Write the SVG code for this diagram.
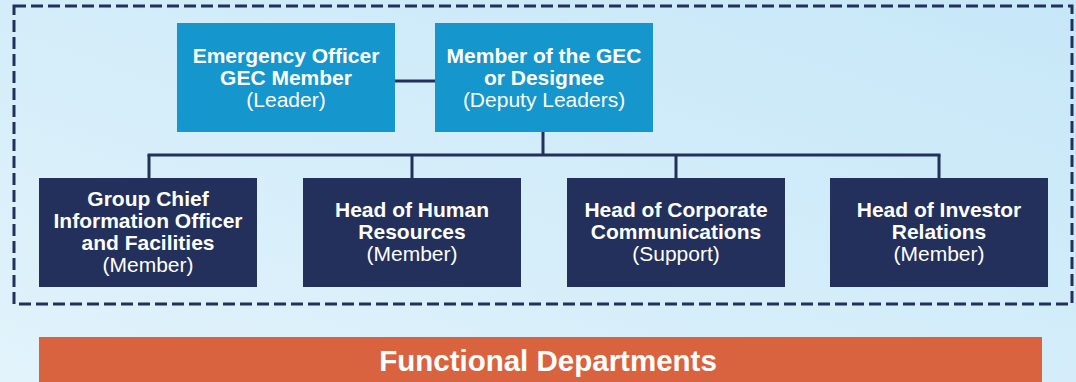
<svg xmlns="http://www.w3.org/2000/svg" width="1076" height="382" viewBox="0 0 1076 382">
  <defs>
    <linearGradient id="bg" x1="0" y1="1" x2="1" y2="0">
      <stop offset="0" stop-color="#e2f3fb"/>
      <stop offset="1" stop-color="#c6e7f8"/>
    </linearGradient>
  </defs>
  <style>
    .lead { fill: #1596cd; }
    .member { fill: #22305b; }
    .wire { stroke: #22305b; stroke-width: 3; fill: none; }
    .frame { stroke: #22305b; stroke-width: 3; fill: none; stroke-dasharray: 12 5; }
    text { font-family: "Liberation Sans", Arial, sans-serif; fill: #ffffff; text-anchor: middle; font-size: 21px; }
    .b { font-weight: bold; }
  </style>

  <rect width="1076" height="382" fill="url(#bg)"/>

  <!-- team boundary -->
  <rect class="frame" x="14" y="6" width="1058" height="298"/>

  <!-- connectors -->
  <g id="connectors">
    <line class="wire" x1="395" y1="81" x2="435" y2="81"/>
    <line class="wire" x1="543" y1="132" x2="543" y2="155"/>
    <line class="wire" x1="147.5" y1="155" x2="940.5" y2="155"/>
    <line class="wire" x1="149" y1="155" x2="149" y2="178"/>
    <line class="wire" x1="412" y1="155" x2="412" y2="178"/>
    <line class="wire" x1="676" y1="155" x2="676" y2="178"/>
    <line class="wire" x1="939" y1="155" x2="939" y2="178"/>
  </g>

  <g id="leader">
    <rect class="lead" x="177" y="23" width="218" height="109"/>
    <text class="b" x="286" y="63">Emergency Officer</text>
    <text class="b" x="286" y="85">GEC Member</text>
    <text x="286" y="107">(Leader)</text>
  </g>

  <g id="deputy">
    <rect class="lead" x="435" y="23" width="218" height="109"/>
    <text class="b" x="544" y="63">Member of the GEC</text>
    <text class="b" x="544" y="85">or Designee</text>
    <text x="544" y="107">(Deputy Leaders)</text>
  </g>

  <g id="gcio">
    <rect class="member" x="39" y="178" width="218" height="109"/>
    <text class="b" x="148" y="206">Group Chief</text>
    <text class="b" x="148" y="228">Information Officer</text>
    <text class="b" x="148" y="250">and Facilities</text>
    <text x="148" y="272">(Member)</text>
  </g>

  <g id="hr">
    <rect class="member" x="303" y="178" width="218" height="109"/>
    <text class="b" x="412" y="217">Head of Human</text>
    <text class="b" x="412" y="239">Resources</text>
    <text x="412" y="261">(Member)</text>
  </g>

  <g id="comms">
    <rect class="member" x="567" y="178" width="218" height="109"/>
    <text class="b" x="676" y="217">Head of Corporate</text>
    <text class="b" x="676" y="239">Communications</text>
    <text x="676" y="261">(Support)</text>
  </g>

  <g id="ir">
    <rect class="member" x="830" y="178" width="218" height="109"/>
    <text class="b" x="939" y="217">Head of Investor</text>
    <text class="b" x="939" y="239">Relations</text>
    <text x="939" y="261">(Member)</text>
  </g>

  <g id="functional">
    <rect x="39" y="337" width="1003" height="45" fill="#d9633e"/>
    <text class="b" x="548" y="371" style="font-size:29.5px">Functional Departments</text>
  </g>
</svg>
